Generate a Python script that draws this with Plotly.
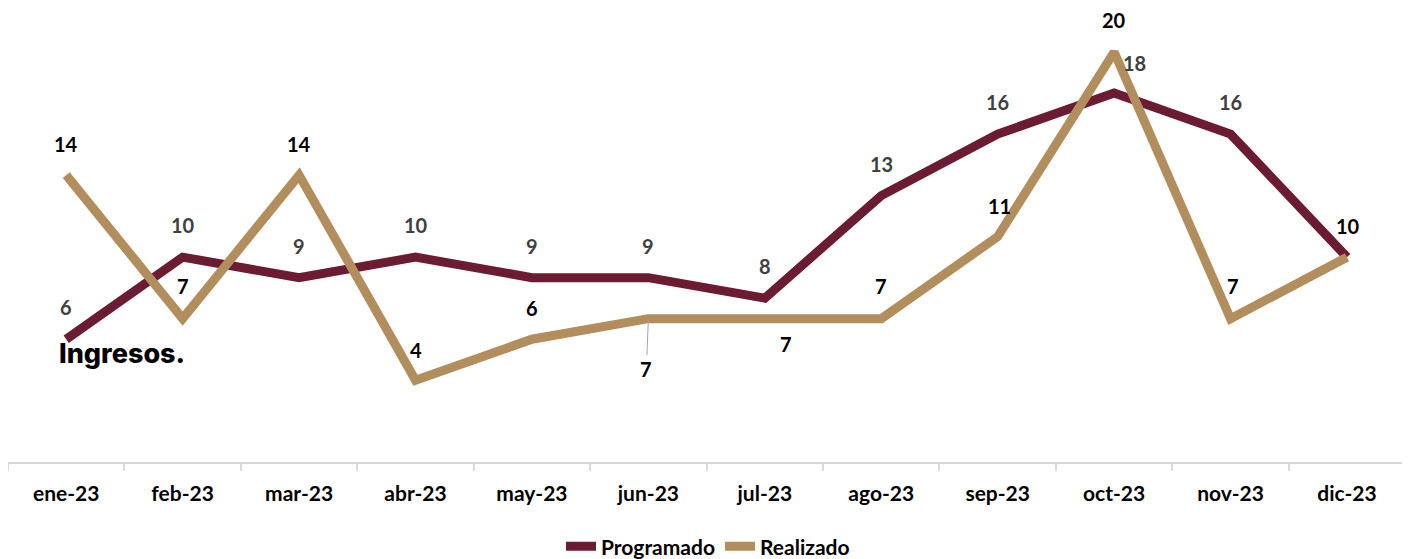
import plotly.graph_objects as go

months = ["ene-23", "feb-23", "mar-23", "abr-23", "may-23", "jun-23",
          "jul-23", "ago-23", "sep-23", "oct-23", "nov-23", "dic-23"]
programado = [6, 10, 9, 10, 9, 9, 8, 13, 16, 18, 16, 10]
realizado = [14, 7, 14, 4, 6, 7, 7, 7, 11, 20, 7, 10]

C_PROG = "#6B1B32"
C_REAL = "#B38E5D"
LW = 9

# label offsets (style only): (xshift, yshift)
prog_off = [(0, 32)] * 9 + [(20, 30), (0, 32), None]
real_off = [(0, 31), (0, 33), (0, 31), (0, 30), (0, 31), "arrow",
            (21, -25), (0, 33), (2, 31), (0, 32), (2, 33), (1, 31)]

fig = go.Figure()

# soft drop shadows (drawn first, on their own slightly offset axes)
for vals in (programado, realizado):
    fig.add_trace(go.Scatter(x=months, y=vals, mode="lines", xaxis="x", yaxis="y",
                             line=dict(color="rgba(0,0,0,0.12)", width=LW + 2),
                             hoverinfo="skip", showlegend=False))

fig.add_trace(go.Scatter(x=months, y=programado, mode="lines", name="Programado",
                         xaxis="x2", yaxis="y2",
                         line=dict(color=C_PROG, width=LW)))
fig.add_trace(go.Scatter(x=months, y=realizado, mode="lines", name="Realizado",
                         xaxis="x2", yaxis="y2",
                         line=dict(color=C_REAL, width=LW)))

FAM = "Lato, 'Open Sans', sans-serif"
for m, v, off in zip(months, programado, prog_off):
    if off is None:
        continue
    fig.add_annotation(x=m, y=v, xref="x2", yref="y2", text=f"<b>{v}</b>",
                       showarrow=False, xshift=off[0], yshift=off[1],
                       font=dict(family=FAM, size=20, color="#404040"))
for m, v, off in zip(months, realizado, real_off):
    if off == "arrow":
        fig.add_annotation(x=m, y=v, xref="x2", yref="y2", text=f"<b>{v}</b>",
                           showarrow=True, arrowhead=0, arrowwidth=1,
                           arrowcolor="#A6A6A6", ax=-2, ay=50, standoff=2,
                           font=dict(family=FAM, size=20, color="#000000"))
        continue
    fig.add_annotation(x=m, y=v, xref="x2", yref="y2", text=f"<b>{v}</b>",
                       showarrow=False, xshift=off[0], yshift=off[1],
                       font=dict(family=FAM, size=20, color="#000000"))

fig.add_annotation(xref="paper", yref="paper", x=0.035, y=0.245, xanchor="left",
                   yanchor="middle", text="Ingresos.", showarrow=False,
                   font=dict(family="Inter, 'Open Sans', sans-serif", size=27,
                             color="#000000", weight=800))

# the page body adds an 8px offset; the figure size compensates for it
fig.update_layout(
    width=1402, height=551,
    margin=dict(l=0, r=2, t=3, b=94, autoexpand=False),
    paper_bgcolor="white", plot_bgcolor="white",
    showlegend=True,
    legend=dict(orientation="h", x=0.5, xanchor="center", y=-0.18, yanchor="middle",
                font=dict(family=FAM, size=21, color="#000000", weight="bold"),
                itemwidth=30, tracegroupgap=0),
    xaxis=dict(type="category", categoryorder="array", categoryarray=months,
               range=[-0.5, 11.5], domain=[0.002, 1], visible=False, anchor="y"),
    yaxis=dict(range=[0, 22], domain=[0, 0.994], visible=False, anchor="x"),
    xaxis2=dict(type="category", categoryorder="array", categoryarray=months,
                range=[-0.5, 11.5], domain=[0, 0.998], anchor="y2",
                showline=True, linecolor="#D9D9D9", linewidth=2,
                ticks="outside", tickson="boundaries", ticklen=7, tickcolor="#D9D9D9",
                tickwidth=2, showgrid=False, zeroline=False, ticklabelstandoff=12,
                tickfont=dict(family=FAM, size=21, color="#000000", weight="bold")),
    yaxis2=dict(range=[0, 22], domain=[0.006, 1], visible=False, anchor="x2",
                showgrid=False, zeroline=False),
)

fig.write_html("out.html")
